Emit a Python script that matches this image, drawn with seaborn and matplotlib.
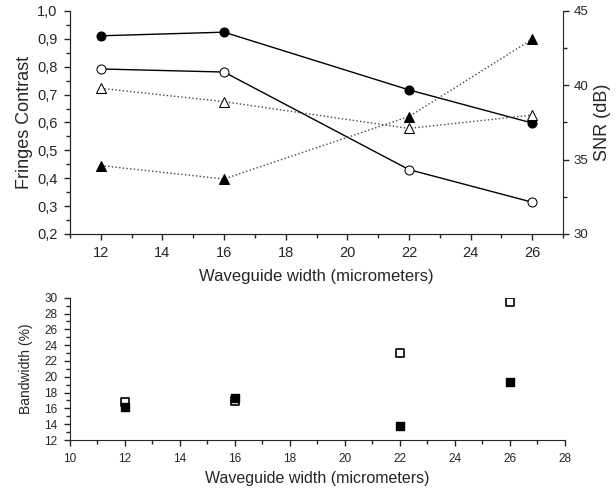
import seaborn as sns
import pandas as pd
import matplotlib.pyplot as plt
from matplotlib.ticker import MultipleLocator, FuncFormatter

width = [12, 16, 22, 26]
contrast_filled = [0.911, 0.924, 0.717, 0.598]
contrast_open = [0.792, 0.781, 0.431, 0.314]
snr_open = [39.8, 38.9, 37.1, 38.0]
snr_filled = [34.6, 33.7, 37.9, 43.1]
bw_open = [16.8, 16.9, 23.0, 29.5]
bw_filled = [16.2, 17.3, 13.8, 19.3]

sns.set_style("ticks")
plt.rcParams['font.family'] = ['Liberation Sans', 'DejaVu Sans']
plt.rcParams['xtick.direction'] = 'out'
plt.rcParams['ytick.direction'] = 'out'

fig = plt.figure(figsize=(6.16, 4.93), dpi=100)
ax = fig.add_axes([0.1136, 0.5254, 0.8004, 0.4523])
ax2 = ax.twinx()

df = pd.DataFrame({"w": width, "cf": contrast_filled, "co": contrast_open,
                   "so": snr_open, "sf": snr_filled})

ms = 6.5
sns.lineplot(data=df, x="w", y="cf", ax=ax, color="black", lw=1, marker="o",
             markersize=ms, markerfacecolor="black", markeredgecolor="black")
sns.lineplot(data=df, x="w", y="co", ax=ax, color="black", lw=1, marker="o",
             markersize=ms, markerfacecolor="white", markeredgecolor="black")
sns.lineplot(data=df, x="w", y="so", ax=ax2, color="#444444", lw=1, ls=":",
             marker="^", markersize=ms + 0.5, markerfacecolor="white", markeredgecolor="black")
sns.lineplot(data=df, x="w", y="sf", ax=ax2, color="#444444", lw=1, ls=":",
             marker="^", markersize=ms + 0.5, markerfacecolor="black", markeredgecolor="black")

ax.set_xlim(11, 27)
ax.set_ylim(0.2, 1.0)
ax2.set_ylim(30, 45)
ax.xaxis.set_major_locator(MultipleLocator(2))
ax.xaxis.set_minor_locator(MultipleLocator(1))
ax.yaxis.set_major_locator(MultipleLocator(0.1))
ax.yaxis.set_minor_locator(MultipleLocator(0.05))
ax2.yaxis.set_major_locator(MultipleLocator(5))
ax2.yaxis.set_minor_locator(MultipleLocator(2.5))
ax.yaxis.set_major_formatter(FuncFormatter(lambda v, p: f"{v:.1f}".replace(".", ",")))
ax.set_xticks([12, 14, 16, 18, 20, 22, 24, 26])
ax.set_xlabel("Waveguide width (micrometers)", fontsize=12, labelpad=6)
ax.set_ylabel("Fringes Contrast", fontsize=13, labelpad=3)
ax2.set_ylabel("SNR (dB)", fontsize=13)
ax.tick_params(labelsize=10.5, width=1, length=4, pad=5)
ax.tick_params(which="minor", width=1, length=3)
ax2.tick_params(labelsize=9.5, width=1, length=4)
ax2.tick_params(which="minor", width=1, length=3)
for a in (ax, ax2):
    a.spines["top"].set_visible(False)
    a.spines["left"].set_visible(True)
ax.spines["right"].set_visible(False)
ax2.spines["right"].set_visible(True)

bx = fig.add_axes([0.1136, 0.1075, 0.8036, 0.2885])
dfb = pd.DataFrame({"w": width, "bo": bw_open, "bf": bw_filled})
sns.scatterplot(data=dfb, x="w", y="bo", ax=bx, marker="s", s=30,
                facecolor="white", edgecolor="black", linewidth=1.2)
sns.scatterplot(data=dfb, x="w", y="bf", ax=bx, marker="s", s=30,
                color="black", edgecolor="black", linewidth=1)
bx.set_xlim(10, 28)
bx.set_ylim(12, 30)
bx.xaxis.set_major_locator(MultipleLocator(2))
bx.xaxis.set_minor_locator(MultipleLocator(1))
bx.yaxis.set_major_locator(MultipleLocator(2))
bx.yaxis.set_minor_locator(MultipleLocator(1))
bx.set_xlabel("Waveguide width (micrometers)", fontsize=11.5, labelpad=5)
bx.set_ylabel("Bandwidth (%)", fontsize=10, labelpad=8)
bx.tick_params(labelsize=8.5, width=1, length=4, pad=5)
bx.tick_params(which="minor", width=1, length=3)
sns.despine(ax=bx)

fig.savefig("out.png", dpi=100)
